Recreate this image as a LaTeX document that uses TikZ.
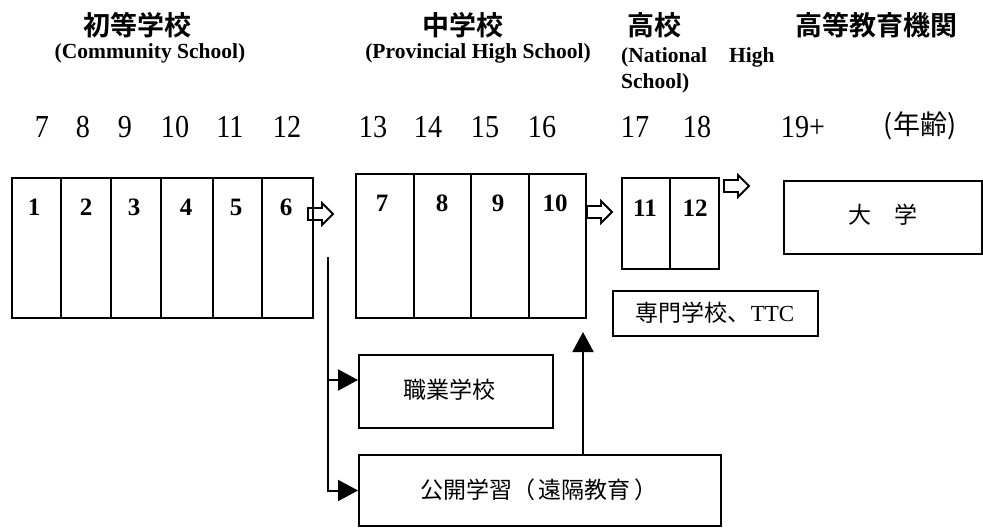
\documentclass[tikz,border=0pt]{standalone}
\usepackage{fontspec}
\usetikzlibrary{arrows.meta}
\setmainfont{Liberation Serif}
\newfontfamily\cjk[BoldFont={* Bold}]{Noto Sans CJK JP}
\newfontfamily\agefont[FakeStretch=0.88]{Liberation Serif}
\begin{document}
\begin{tikzpicture}[x=1pt,y=-1pt,
  cell/.style={draw, line width=2pt, inner sep=0pt, anchor=north west},
  grade/.style={font=\bfseries\fontsize{25}{27}\selectfont, inner sep=0pt},
  age/.style={font=\agefont\fontsize{32}{34}\selectfont, inner sep=0pt},
  title/.style={font=\cjk\bfseries\fontsize{27}{29}\selectfont, inner sep=0pt},
  sub/.style={font=\bfseries\fontsize{21.5}{23}\selectfont, inner sep=0pt},
  boxtext/.style={font=\cjk\fontsize{23}{25}\selectfont},
  conn/.style={line width=2pt},
  tip/.style={-{Triangle[length=20pt,width=21pt]}},
  blockarr/.style={line width=1.8pt, line join=miter}]
\useasboundingbox (0,0) rectangle (983,528);

% titles
\node[title] (t1) at (137,25) {初等学校};
\node[sub] (s1) at (150,53) {(Community School)};
\node[title] (t2) at (463,25) {中学校};
\node[sub] (s2) at (478,53) {(Provincial High School)};
\node[title] (t3) at (654,25) {高校};
\node[sub, anchor=west] (s3a) at (621,57) {(National\hspace{22pt}High};
\node[sub, anchor=west] (s3b) at (621,83) {School)};
\node[title] (t4) at (876,25) {高等教育機関};

% ages
\node[age] (a7) at (42,127) {7};
\node[age] (a8) at (83,127) {8};
\node[age] (a9) at (125,127) {9};
\node[age] (a10) at (175,127) {10};
\node[age] (a11) at (230,127) {11};
\node[age] (a12) at (287,127) {12};
\node[age] (a13) at (373,127) {13};
\node[age] (a14) at (428,127) {14};
\node[age] (a15) at (485,127) {15};
\node[age] (a16) at (542,127) {16};
\node[age] (a17) at (635,127) {17};
\node[age] (a18) at (697,127) {18};
\node[age] (a19) at (803,127) {19+};
\node[font=\cjk\fontsize{27}{29}\selectfont, inner sep=0pt] (aage) at (920,126) {(年齢)};

% elementary cells
\node[cell, minimum width=49pt, minimum height=140pt] (e1) at (11,177) {};
\node[cell, minimum width=50pt, minimum height=140pt] (e2) at (60,177) {};
\node[cell, minimum width=50pt, minimum height=140pt] (e3) at (110,177) {};
\node[cell, minimum width=52pt, minimum height=140pt] (e4) at (160,177) {};
\node[cell, minimum width=49pt, minimum height=140pt] (e5) at (212,177) {};
\node[cell, minimum width=51pt, minimum height=140pt] (e6) at (261,177) {};
\node[grade] (g1) at (34,207) {1};
\node[grade] (g2) at (86,207) {2};
\node[grade] (g3) at (134,207) {3};
\node[grade] (g4) at (186,207) {4};
\node[grade] (g5) at (236,207) {5};
\node[grade] (g6) at (286,207) {6};
\draw[line width=1.2pt] (60,250) -- (62,250) (60,291) -- (62,291);

% middle cells
\node[cell, minimum width=58pt, minimum height=144pt] (m7) at (355,173) {};
\node[cell, minimum width=57pt, minimum height=144pt] (m8) at (413,173) {};
\node[cell, minimum width=58pt, minimum height=144pt] (m9) at (470,173) {};
\node[cell, minimum width=57pt, minimum height=144pt] (m10) at (528,173) {};
\node[grade] (g7) at (382,203) {7};
\node[grade] (g8) at (442,203) {8};
\node[grade] (g9) at (498,203) {9};
\node[grade] (g10) at (555,203) {10};

% high cells
\node[cell, minimum width=48pt, minimum height=91pt] (h11) at (621,177) {};
\node[cell, minimum width=49pt, minimum height=91pt] (h12) at (669,177) {};
\node[grade] (g11) at (645,208) {11};
\node[grade] (g12) at (695,208) {12};

% other boxes
\node[cell, minimum width=198pt, minimum height=73pt] (univ) at (783,180) {};
\node[boxtext] (univt) at (883,215) {大\hspace{1em}学};
\node[cell, minimum width=205pt, minimum height=45pt] (ttc) at (612,290) {};
\node[boxtext] (ttct) at (715,313) {専門学校、\fontsize{23}{25}\rmfamily TTC};
\node[cell, minimum width=194pt, minimum height=73pt] (voc) at (358,354) {};
\node[boxtext] (voct) at (449,390) {職業学校};
\node[cell, minimum width=362pt, minimum height=71pt] (open) at (358,454) {};
\node[boxtext] (opent) at (539,490) {公開学習（\,遠隔教育\,）};

% block arrows
\newcommand\blockarrow[2]{\draw[blockarr] (#1,#2) ++(0,-6) -- ++(14,0) -- ++(0,-5) -- ++(11,11) -- ++(-11,11) -- ++(0,-5) -- ++(-14,0) -- cycle;}
\blockarrow{308}{214}
\blockarrow{587}{212}
\blockarrow{724}{186}

% connectors
\coordinate (branch) at (328,257);
\coordinate (uptip) at (583,332);
\draw[conn, tip] (branch) |- ([yshift=11.5pt]voc.west);
\draw[conn, tip] (branch) |- (open.west);
\draw[conn, tip] (open.north -| uptip) -- (uptip);
\end{tikzpicture}
\end{document}
